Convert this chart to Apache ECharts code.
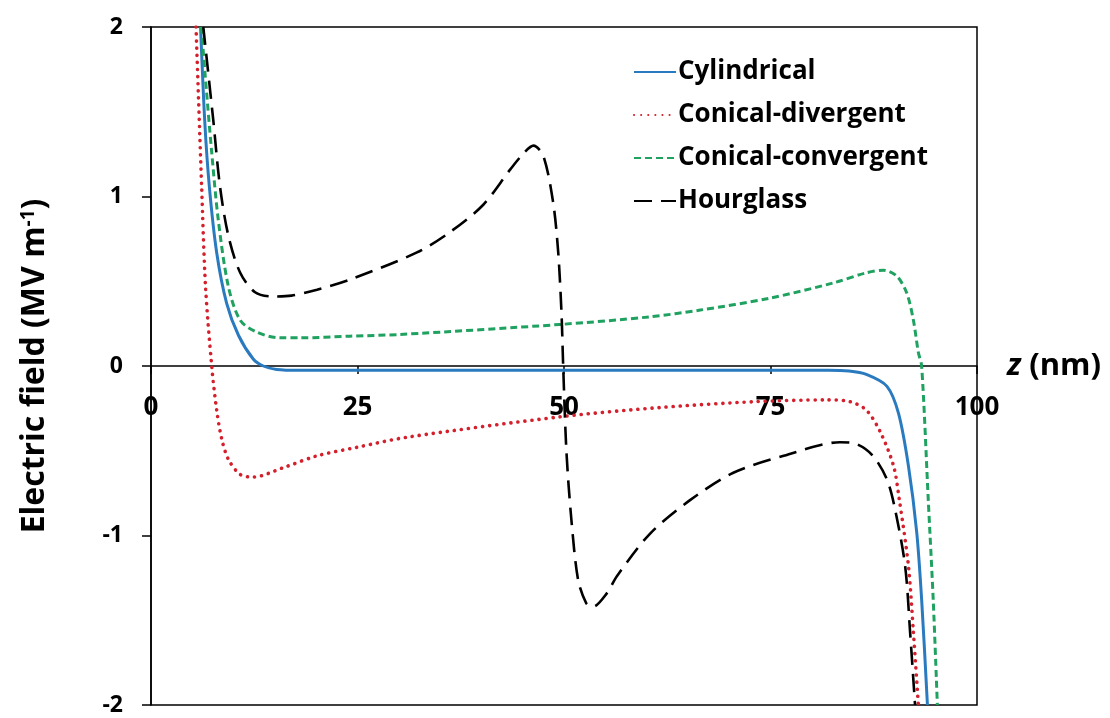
<!DOCTYPE html>
<html>
<head>
<meta charset="utf-8">
<script src="https://cdn.jsdelivr.net/npm/echarts@6/dist/echarts.min.js"></script>
<style>
  html, body { margin: 0; padding: 0; background: #fff; }
  #main { width: 1110px; height: 718px; }
</style>
</head>
<body>
<div id="main"></div>
<script>
// values: z in nm, field in MV/m
const cylZ = [6.0, 6.5, 7.06, 7.95, 9.16, 10.6, 12.4, 13.6, 15.2, 18, 50, 82, 84.5, 86.6, 89.1, 90.5, 91.7, 92.7, 93.3, 94.0];
const cylE = [2.0, 1.45, 1.06, 0.67, 0.37, 0.18, 0.04, 0.0, -0.02, -0.025, -0.025, -0.025, -0.03, -0.05, -0.12, -0.28, -0.59, -0.98, -1.38, -2.0];

const divZ = [5.45, 6.13, 6.6, 7.35, 7.95, 8.56, 9.36, 10.8, 12.4, 16.0, 20.1, 24.9, 31.0, 49.5, 61.6, 73.3, 81.8, 84.6, 86.6, 88.3, 89.9, 90.6, 91.7, 92.3, 92.9];
const divE = [2.0, 1.06, 0.47, 0.0, -0.26, -0.43, -0.55, -0.64, -0.655, -0.60, -0.53, -0.48, -0.42, -0.30, -0.245, -0.21, -0.20, -0.21, -0.26, -0.39, -0.59, -0.79, -1.18, -1.57, -2.0];

const conZ = [6.1, 6.5, 7.35, 8.15, 9.36, 10.8, 12.8, 15.6, 18.0, 24.1, 30.1, 49.5, 60.4, 66.5, 74.9, 82.6, 86.6, 88.7, 90.3, 91.5, 92.3, 92.9, 93.3, 94.1, 94.7, 95.2];
const conE = [2.0, 1.75, 1.26, 0.86, 0.47, 0.27, 0.20, 0.166, 0.166, 0.176, 0.186, 0.245, 0.29, 0.33, 0.40, 0.49, 0.55, 0.565, 0.53, 0.43, 0.27, 0.08, 0.0, -0.79, -1.38, -2.0];

const hgZ = [6.33, 7.54, 8.35, 9.36, 10.8, 12.6, 14.8, 17, 20.1, 24.1, 32.2, 36.2, 40.2, 43.5, 45.2, 46.3, 47.5, 48.7, 49.3, 49.7, 49.9, 50.3, 50.9, 51.7, 52.7, 53.5, 55.2, 56.4, 60.4, 65.3, 70.5, 76.6, 83.4, 85.4, 87.4, 89.1, 90.1, 91.3, 91.9, 92.5];
const hgE = [2.0, 1.45, 1.06, 0.77, 0.55, 0.435, 0.41, 0.415, 0.45, 0.51, 0.67, 0.79, 0.95, 1.16, 1.26, 1.30, 1.24, 0.96, 0.67, 0.31, 0.0, -0.51, -0.91, -1.26, -1.40, -1.42, -1.34, -1.24, -0.99, -0.79, -0.63, -0.53, -0.45, -0.46, -0.53, -0.67, -0.85, -1.18, -1.57, -2.0];

const seriesNames = ['Cylindrical', 'Conical-divergent', 'Conical-convergent', 'Hourglass'];

const font = 'Open Sans';
const zip = (xs, ys) => xs.map((x, i) => [x, ys[i]]);

const gridTop = 27, gridBottom = 13;
const plotH = 718 - gridTop - gridBottom;

const myChart = echarts.init(document.getElementById('main'));

const option = {
  backgroundColor: '#fff',
  animation: false,
  grid: {
    left: 151,
    right: 133,
    top: gridTop,
    bottom: gridBottom,
    show: true,
    borderColor: '#000',
    borderWidth: 1.5,
    containLabel: false,
    outerBoundsMode: 'none'
  },
  legend: {
    orient: 'vertical',
    left: 628,
    top: 52,
    itemWidth: 42,
    itemHeight: 14,
    itemGap: 13,
    data: seriesNames,
    itemStyle: { opacity: 0 },
    textStyle: {
      fontFamily: font,
      fontWeight: 'bold',
      fontSize: 26,
      lineHeight: 30,
      color: '#000',
      padding: [0, 0, 0, -3]
    }
  },
  xAxis: {
    type: 'value',
    min: 0,
    max: 100,
    interval: 25,
    position: 'bottom',
    // sit on the E = 0 line (middle of the -2..2 range)
    offset: -plotH / 2,
    name: '{i|z}{a| (nm)}',
    nameLocation: 'end',
    nameGap: 30,
    nameTextStyle: {
      rich: {
        i: { fontFamily: font, fontWeight: 'bold', fontStyle: 'italic', fontSize: 31, color: '#000' },
        a: { fontFamily: font, fontWeight: 'bold', fontSize: 31, color: '#000' }
      }
    },
    axisLine: { onZero: false, lineStyle: { color: '#000', width: 1.5 } },
    axisTick: { length: 8, lineStyle: { color: '#000', width: 1.5 } },
    axisLabel: { margin: 29, fontFamily: font, fontWeight: 'bold', fontSize: 26, color: '#000' },
    splitLine: { show: false }
  },
  yAxis: {
    type: 'value',
    min: -2,
    max: 2,
    interval: 1,
    name: '{a|Electric field (MV m}{s|-1}{a|)}',
    nameLocation: 'middle',
    nameRotate: 90,
    nameGap: 100,
    nameTextStyle: {
      rich: {
        a: { fontFamily: font, fontWeight: 'bold', fontSize: 32, color: '#000' },
        s: { fontFamily: font, fontWeight: 'bold', fontSize: 19, color: '#000', verticalAlign: 'top' }
      }
    },
    axisLine: { show: true, onZero: false, lineStyle: { color: '#000', width: 1.5 } },
    axisTick: { length: 9, lineStyle: { color: '#000', width: 1.5 } },
    axisLabel: { margin: 28, fontFamily: font, fontWeight: 'bold', fontSize: 23, color: '#000' },
    splitLine: { show: false }
  },
  series: [
    {
      name: 'Cylindrical',
      type: 'line',
      data: zip(cylZ, cylE),
      symbol: 'none',
      smooth: 0.3,
      color: '#2A7AC0',
      lineStyle: { color: '#2A7AC0', width: 3 }
    },
    {
      name: 'Conical-divergent',
      type: 'line',
      data: zip(divZ, divE),
      symbol: 'none',
      smooth: 0.3,
      color: '#D4202C',
      lineStyle: { color: '#D4202C', width: 3.6, type: [0.1, 7], cap: 'round' }
    },
    {
      name: 'Conical-convergent',
      type: 'line',
      data: zip(conZ, conE),
      symbol: 'none',
      smooth: 0.3,
      color: '#1FA160',
      lineStyle: { color: '#1FA160', width: 3, type: [7, 4] }
    },
    {
      name: 'Hourglass',
      type: 'line',
      data: zip(hgZ, hgE),
      symbol: 'none',
      smooth: 0.3,
      color: '#000',
      lineStyle: { color: '#000', width: 2.6, type: [18, 9] }
    }
  ]
};

option && myChart.setOption(option);
</script>
</body>
</html>
